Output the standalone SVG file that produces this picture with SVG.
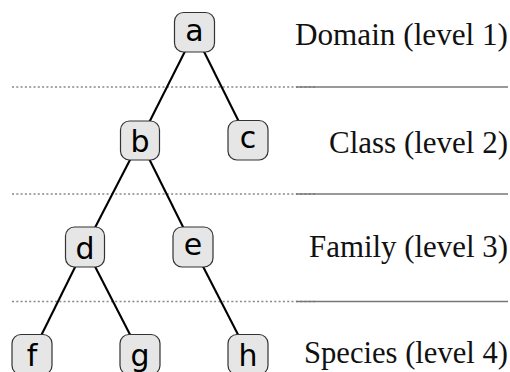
<svg xmlns="http://www.w3.org/2000/svg" width="510" height="372" viewBox="0 0 510 372">
<style>
.box{fill:#e6e6e6;stroke:#333;stroke-width:1.2}
.lbl{font-family:"DejaVu Sans",sans-serif;font-size:30px;fill:#000;text-anchor:middle}
.edge{stroke:#000;stroke-width:2.1;fill:none}
.dot{stroke:#888;stroke-width:1.3;stroke-dasharray:2 2.3}
.sol{stroke:#777;stroke-width:1.3}
.lev{font-family:"Liberation Serif",serif;font-size:31px;fill:#111;text-anchor:end}
</style>
<rect width="510" height="372" fill="#fff"/>
<g id="rules">
<line class="dot" x1="12" y1="87" x2="316" y2="87"/>
<line class="sol" x1="296" y1="87" x2="508" y2="87"/>
<line class="dot" x1="12" y1="194" x2="316" y2="194"/>
<line class="sol" x1="296" y1="194" x2="508" y2="194"/>
<line class="dot" x1="12" y1="301.5" x2="316" y2="301.5"/>
<line class="sol" x1="296" y1="301.5" x2="508" y2="301.5"/>
</g>
<g id="connectors">
<line class="edge" x1="194.5" y1="32.5" x2="140" y2="140.5"/>
<line class="edge" x1="194.5" y1="32.5" x2="248" y2="140"/>
<line class="edge" x1="140" y1="140.5" x2="85" y2="247"/>
<line class="edge" x1="140" y1="140.5" x2="193" y2="247"/>
<line class="edge" x1="85" y1="247" x2="32" y2="354"/>
<line class="edge" x1="85" y1="247" x2="140" y2="354"/>
<line class="edge" x1="193" y1="247" x2="248" y2="354"/>
</g>
<g id="node-a"><rect class="box" x="174.5" y="12.5" width="40" height="39.5" rx="9"/><text class="lbl" x="194.5" y="40.5">a</text></g>
<g id="node-b"><rect class="box" x="120.5" y="121" width="39" height="39" rx="9"/><text class="lbl" x="140" y="152.3">b</text></g>
<g id="node-c"><rect class="box" x="228" y="120.5" width="40" height="39.5" rx="9"/><text class="lbl" x="248" y="147.5">c</text></g>
<g id="node-d"><rect class="box" x="65.5" y="227" width="39" height="40" rx="9"/><text class="lbl" x="85" y="259.3">d</text></g>
<g id="node-e"><rect class="box" x="173" y="227" width="40" height="40" rx="9"/><text class="lbl" x="193" y="254.5">e</text></g>
<g id="node-f"><rect class="box" x="12" y="334.5" width="40" height="40" rx="9"/><text class="lbl" x="32" y="365.7">f</text></g>
<g id="node-g"><rect class="box" x="120" y="334.5" width="40" height="40" rx="9"/><text class="lbl" x="140" y="365.5">g</text></g>
<g id="node-h"><rect class="box" x="228" y="334.5" width="40" height="40" rx="9"/><text class="lbl" x="248" y="365.7">h</text></g>
<g id="levels">
<text class="lev" x="508" y="45" textLength="213" lengthAdjust="spacingAndGlyphs">Domain (level 1)</text>
<text class="lev" x="508" y="153.3" textLength="179" lengthAdjust="spacingAndGlyphs">Class (level 2)</text>
<text class="lev" x="508" y="256.7" textLength="199" lengthAdjust="spacingAndGlyphs">Family (level 3)</text>
<text class="lev" x="508" y="363" textLength="204" lengthAdjust="spacingAndGlyphs">Species (level 4)</text>
</g>
</svg>
